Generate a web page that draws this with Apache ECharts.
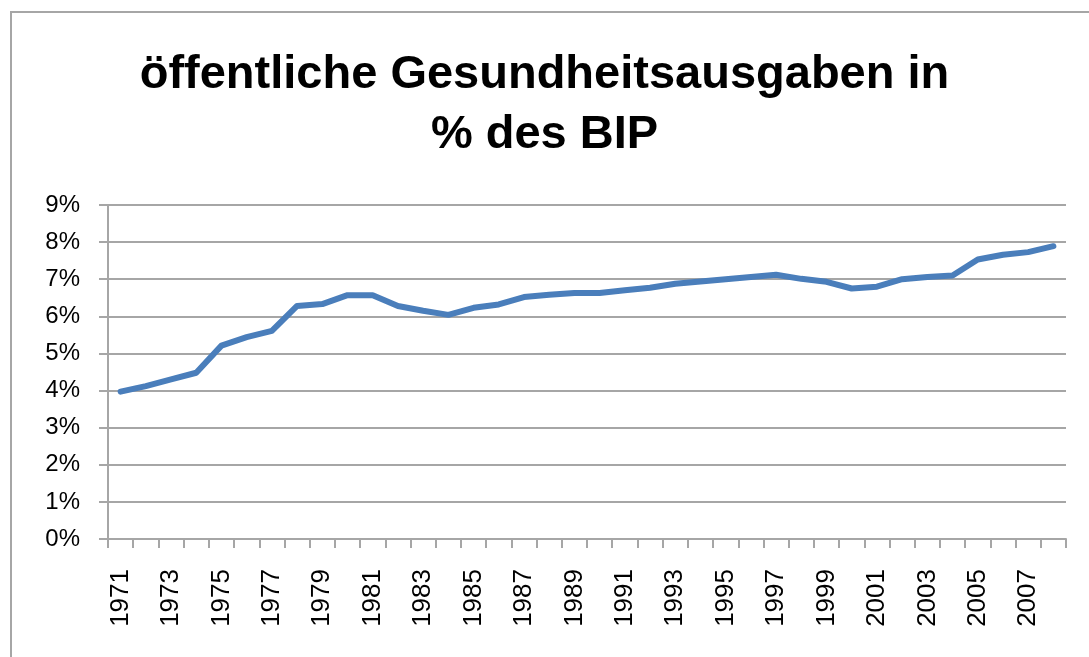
<!DOCTYPE html>
<html>
<head>
<meta charset="utf-8">
<script src="https://cdn.jsdelivr.net/npm/echarts@6/dist/echarts.min.js"></script>
<style>
  html, body { margin: 0; padding: 0; background: #fff; }
  #chart { width: 1089px; height: 657px; }
</style>
</head>
<body>
<div id="chart"></div>
<script>
  // Jahre (x-Achse)
  const years = ['1971','1972','1973','1974','1975','1976','1977','1978','1979','1980',
                 '1981','1982','1983','1984','1985','1986','1987','1988','1989','1990',
                 '1991','1992','1993','1994','1995','1996','1997','1998','1999','2000',
                 '2001','2002','2003','2004','2005','2006','2007','2008'];
  // öffentliche Gesundheitsausgaben in % des BIP
  const spending = [3.97, 4.12, 4.30, 4.48, 5.21, 5.44, 5.61, 6.28, 6.33, 6.57,
                    6.57, 6.28, 6.15, 6.04, 6.23, 6.32, 6.52, 6.58, 6.63, 6.63,
                    6.70, 6.77, 6.88, 6.94, 7.00, 7.06, 7.12, 7.01, 6.93, 6.75,
                    6.80, 7.00, 7.06, 7.10, 7.53, 7.66, 7.73, 7.89];
  const yTicks = [0, 9, 1]; // min, max, interval

  const chart = echarts.init(document.getElementById('chart'));
  const option = {
    animation: false,
    title: {
      text: 'öffentliche Gesundheitsausgaben in\n% des BIP',
      left: 'center',
      top: 40,
      padding: [5, 5, 5, 19],
      textStyle: {
        fontFamily: 'Liberation Sans, sans-serif',
        fontWeight: 'bold',
        fontSize: 47,
        lineHeight: 60,
        color: '#000'
      }
    },
    graphic: [{
      type: 'rect',
      shape: { x: 11, y: 12, width: 1200, height: 800 },
      style: { fill: 'none', stroke: '#a6a6a6', lineWidth: 2 },
      silent: true
    }],
    grid: { left: 108, right: 23, top: 205, bottom: 118 },
    xAxis: {
      type: 'category',
      data: years,
      boundaryGap: true,
      axisLine: { lineStyle: { color: '#a6a6a6', width: 2 } },
      axisTick: { show: true, interval: 0, length: 9, lineStyle: { color: '#a6a6a6', width: 2 } },
      axisLabel: {
        interval: 1,
        rotate: 90,
        margin: 30,
        fontSize: 26,
        fontFamily: 'Liberation Sans, sans-serif',
        color: '#000'
      },
      splitLine: { show: false }
    },
    yAxis: {
      type: 'value',
      min: yTicks[0],
      max: yTicks[1],
      interval: yTicks[2],
      axisLine: { show: true, lineStyle: { color: '#a6a6a6', width: 2 } },
      axisTick: { show: true, length: 9, lineStyle: { color: '#a6a6a6', width: 2 } },
      axisLabel: {
        formatter: '{value}%',
        margin: 28,
        fontSize: 24,
        fontFamily: 'Liberation Sans, sans-serif',
        color: '#000'
      },
      splitLine: { lineStyle: { color: '#a6a6a6', width: 2 } }
    },
    series: [{
      type: 'line',
      data: spending,
      showSymbol: false,
      lineStyle: { color: '#4a7ebb', width: 6, join: 'round', cap: 'round' },
      itemStyle: { color: '#4a7ebb' }
    }]
  };
  chart.setOption(option);
</script>
</body>
</html>
